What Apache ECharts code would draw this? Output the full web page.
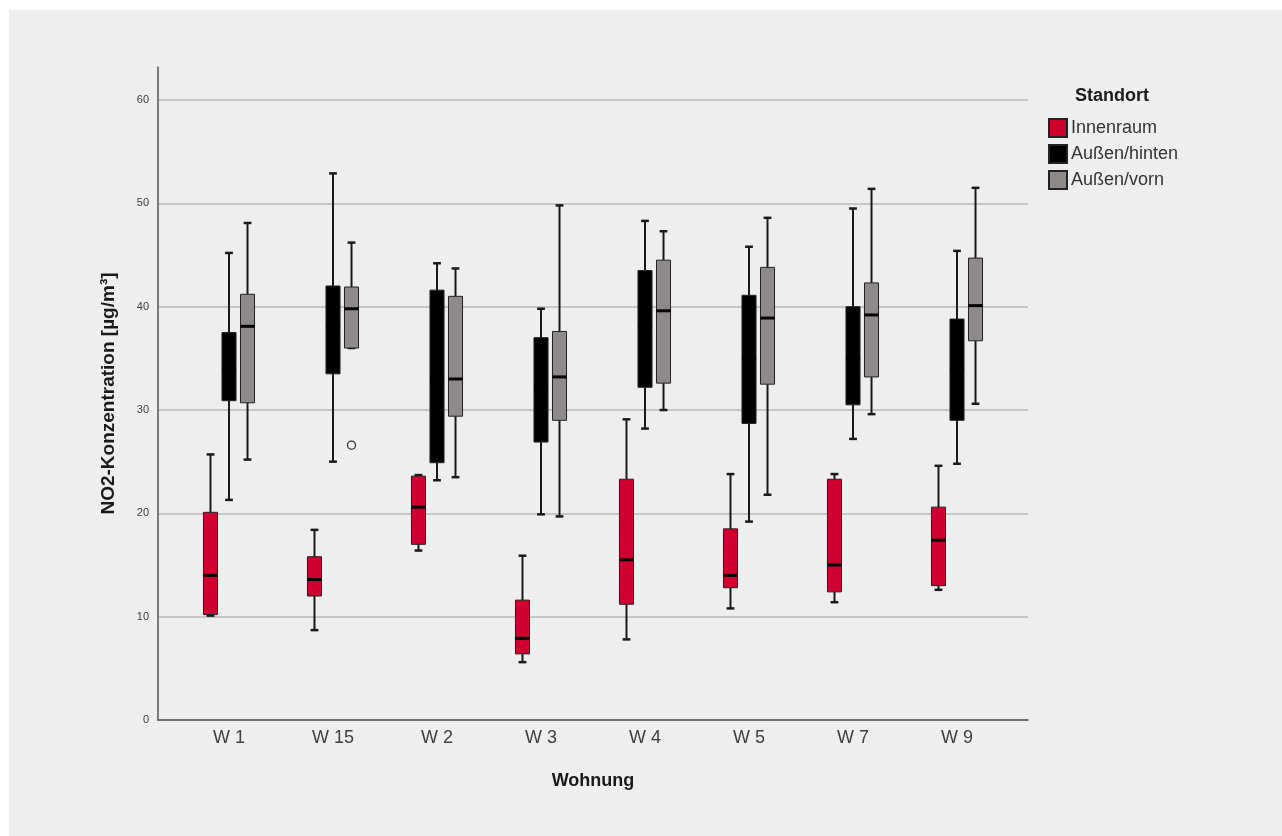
<!DOCTYPE html>
<html>
<head>
<meta charset="utf-8">
<script src="https://cdn.jsdelivr.net/npm/echarts@6/dist/echarts.min.js"></script>
<style>
html,body{margin:0;padding:0;background:#ffffff;width:1282px;height:836px;overflow:hidden;}
#chart{position:absolute;left:9px;top:10px;width:1273px;height:826px;}
</style>
</head>
<body>
<div id="chart"></div>
<script>
// Categories (Wohnung)
var categories = ['W 1', 'W 15', 'W 2', 'W 3', 'W 4', 'W 5', 'W 7', 'W 9'];
// Series names (Standort)
var seriesNames = ['Innenraum', 'Außen/hinten', 'Außen/vorn'];
// Box statistics per category: [min, Q1, median, Q3, max]
var innenraum = [
  [10.1, 10.2, 14.0, 20.1, 25.7],
  [8.7, 12.0, 13.6, 15.8, 18.4],
  [16.4, 17.0, 20.6, 23.6, 23.7],
  [5.6, 6.4, 7.9, 11.6, 15.9],
  [7.8, 11.2, 15.5, 23.3, 29.1],
  [10.8, 12.8, 14.0, 18.5, 23.8],
  [11.4, 12.4, 15.0, 23.3, 23.8],
  [12.6, 13.0, 17.4, 20.6, 24.6]
];
var aussenHinten = [
  [21.3, 30.9, 34.0, 37.5, 45.2],
  [25.0, 33.5, 38.0, 42.0, 52.9],
  [23.2, 24.9, 33.0, 41.6, 44.2],
  [19.9, 26.9, 32.0, 37.0, 39.8],
  [28.2, 32.2, 38.0, 43.5, 48.3],
  [19.2, 28.7, 35.0, 41.1, 45.8],
  [27.2, 30.5, 35.0, 40.0, 49.5],
  [24.8, 29.0, 34.0, 38.8, 45.4]
];
var aussenVorn = [
  [25.2, 30.7, 38.1, 41.2, 48.1],
  [36.0, 36.0, 39.8, 41.9, 46.2],
  [23.5, 29.4, 33.0, 41.0, 43.7],
  [19.7, 29.0, 33.2, 37.6, 49.8],
  [30.0, 32.6, 39.6, 44.5, 47.3],
  [21.8, 32.5, 38.9, 43.8, 48.6],
  [29.6, 33.2, 39.2, 42.3, 51.4],
  [30.6, 36.7, 40.1, 44.7, 51.5]
];
// Outliers: [category index, value] (Außen/vorn)
var aussenVornOutliers = [[1, 26.6]];
// Y-axis ticks
var yTicks = [0, 10, 20, 30, 40, 50, 60];

var colors = ['#cf0030', '#000000', '#8e8a8a'];
var offsets = [-0.178, 0, 0.178];   // fraction of category band
var boxFrac = 0.135;
var capFrac = 0.075;
var FONT = '"Liberation Sans", Arial, sans-serif';

function toRows(arr) {
  return arr.map(function (d, i) { return [i].concat(d); });
}

function makeBoxRender(k) {
  return function (params, api) {
    var cat = api.value(0);
    var band = api.size([1, 0])[0];
    var off = band * offsets[k];
    var hw = band * boxFrac / 2;
    var cw = band * capFrac / 2;
    var pMin = api.coord([cat, api.value(1)]);
    var pQ1 = api.coord([cat, api.value(2)]);
    var pMed = api.coord([cat, api.value(3)]);
    var pQ3 = api.coord([cat, api.value(4)]);
    var pMax = api.coord([cat, api.value(5)]);
    var x = pMin[0] + off;
    var lineStyle = { stroke: '#1a1a1a', lineWidth: 2 };
    return {
      type: 'group',
      children: [
        { type: 'line', shape: { x1: x, y1: pMax[1], x2: x, y2: pQ3[1] }, style: lineStyle },
        { type: 'line', shape: { x1: x, y1: pQ1[1], x2: x, y2: pMin[1] }, style: lineStyle },
        { type: 'line', shape: { x1: x - cw, y1: pMax[1], x2: x + cw, y2: pMax[1] }, style: { stroke: '#1a1a1a', lineWidth: 2.5 } },
        { type: 'line', shape: { x1: x - cw, y1: pMin[1], x2: x + cw, y2: pMin[1] }, style: { stroke: '#1a1a1a', lineWidth: 2.5 } },
        { type: 'rect', shape: { x: x - hw, y: pQ3[1], width: hw * 2, height: pQ1[1] - pQ3[1] },
          style: { fill: colors[k], stroke: '#222222', lineWidth: 1 } },
        { type: 'line', shape: { x1: x - hw, y1: pMed[1], x2: x + hw, y2: pMed[1] }, style: { stroke: '#000000', lineWidth: 3 } }
      ]
    };
  };
}

function outlierRender(params, api) {
  var cat = api.value(0);
  var band = api.size([1, 0])[0];
  var p = api.coord([cat, api.value(1)]);
  return {
    type: 'circle',
    shape: { cx: p[0] + band * offsets[2], cy: p[1], r: 4 },
    style: { fill: '#f4f4f4', stroke: '#333333', lineWidth: 1.3 }
  };
}

var allData = [innenraum, aussenHinten, aussenVorn];
var series = seriesNames.map(function (name, k) {
  return {
    name: name,
    type: 'custom',
    xAxisIndex: 2,
    yAxisIndex: 2,
    renderItem: makeBoxRender(k),
    encode: { x: 0, y: [1, 2, 3, 4, 5] },
    itemStyle: { color: colors[k], borderColor: '#222222', borderWidth: 1 },
    data: toRows(allData[k]),
    z: 3
  };
});
series.push({
  name: 'Ausreißer',
  type: 'custom',
  xAxisIndex: 2,
  yAxisIndex: 2,
  renderItem: outlierRender,
  encode: { x: 0, y: 1 },
  data: aussenVornOutliers,
  z: 4
});

var chart = echarts.init(document.getElementById('chart'), null, { renderer: 'canvas' });
chart.setOption({
  backgroundColor: '#eeeeee',
  animation: false,
  textStyle: { fontFamily: FONT },
  title: {
    text: 'Standort',
    left: 1066,
    top: 77,
    padding: 0,
    textStyle: { fontFamily: FONT, fontSize: 18, fontWeight: 'bold', color: '#1a1a1a' }
  },
  legend: {
    data: seriesNames,
    orient: 'vertical',
    left: 1039,
    top: 108,
    padding: 0,
    itemWidth: 18,
    itemHeight: 18,
    itemGap: 6,
    icon: 'rect',
    textStyle: { fontFamily: FONT, fontSize: 18, color: '#333333', padding: [0, 0, 0, -1] }
  },
  grid: [
    { left: 149, right: 254, top: 57, bottom: 116 },
    { left: 149, right: 254, top: 90, bottom: 116 },
    { left: 168, right: 273, top: 90, bottom: 116 }
  ],
  xAxis: [
    { gridIndex: 0, type: 'value', min: 0, max: 1,
      axisLine: { show: true, lineStyle: { color: '#555555', width: 1.5 } },
      axisTick: { show: false }, axisLabel: { show: false }, splitLine: { show: false } },
    { gridIndex: 1, type: 'value', min: 0, max: 1, show: false },
    { gridIndex: 2, type: 'category', data: categories, boundaryGap: true,
      axisLine: { show: false }, axisTick: { show: false },
      axisLabel: { fontFamily: FONT, fontSize: 18, color: '#404040', margin: 9 },
      name: 'Wohnung', nameLocation: 'middle', nameGap: 52,
      nameTextStyle: { fontFamily: FONT, fontSize: 18, fontWeight: 'bold', color: '#1a1a1a' } }
  ],
  yAxis: [
    { gridIndex: 0, type: 'value', min: 0, max: 1,
      axisLine: { show: true, lineStyle: { color: '#555555', width: 1.5 } },
      axisTick: { show: false }, axisLabel: { show: false }, splitLine: { show: false },
      name: 'NO2-Konzentration [µg/m³]', nameLocation: 'middle', nameGap: 40,
      nameTextStyle: { fontFamily: FONT, fontSize: 19, fontWeight: 'bold', color: '#1a1a1a' } },
    { gridIndex: 1, type: 'value', min: yTicks[0], max: yTicks[yTicks.length - 1], interval: 10,
      axisLine: { show: false }, axisTick: { show: false },
      axisLabel: { fontFamily: FONT, fontSize: 11, color: '#404040', margin: 9 },
      splitLine: { show: true, lineStyle: { color: '#b9b9b9', width: 1.5 } } },
    { gridIndex: 2, type: 'value', min: yTicks[0], max: yTicks[yTicks.length - 1], show: false }
  ],
  series: series
});
</script>
</body>
</html>
